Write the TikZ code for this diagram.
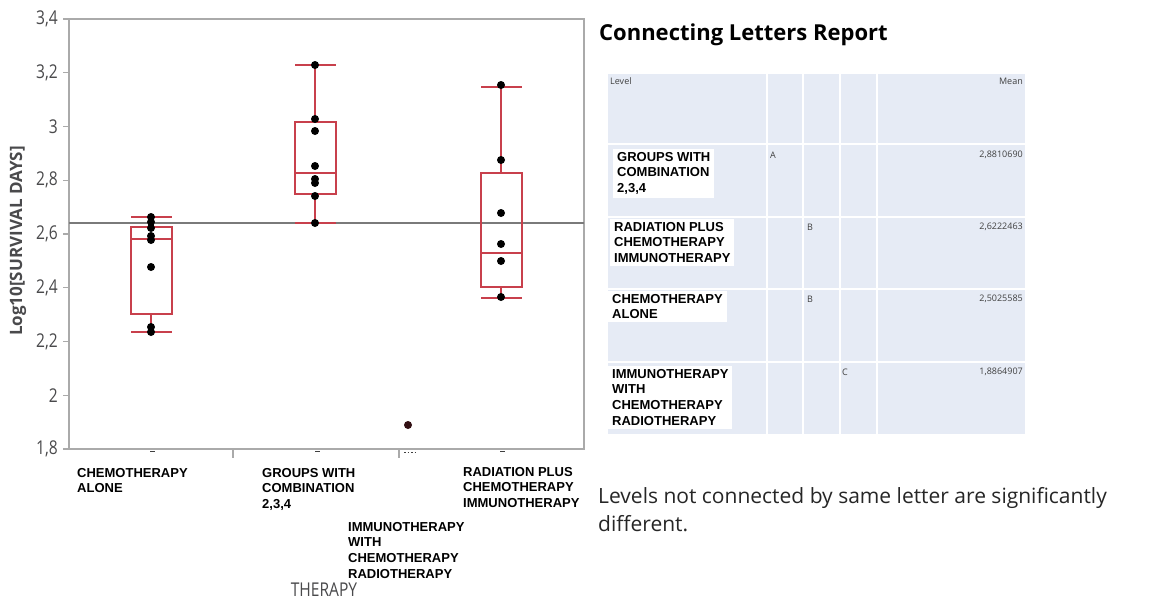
\documentclass[tikz,border=0pt]{standalone}
\usepackage{fontspec}
\usepackage{graphicx}
\setmainfont{Open Sans}
\newfontfamily\labfont{Liberation Sans}
\definecolor{boxred}{HTML}{C8404C}
\definecolor{framegray}{HTML}{AAAAAA}
\definecolor{refgray}{HTML}{7A7A7A}
\definecolor{tickgray}{HTML}{4A4A4C}
\definecolor{tablebg}{HTML}{E6EBF5}
\definecolor{smallgray}{HTML}{404040}
\newcommand{\narrowtxt}[1]{\scalebox{0.82}[1]{#1}}
\tikzset{
  boxc/.style={draw=boxred, line width=1.3pt},
  datadot/.style={circle, fill=black, inner sep=0pt, minimum size=8pt},
  lbl/.style={font=\labfont\bfseries\fontsize{13}{15.7}\selectfont, align=left, inner sep=0pt, anchor=north west},
  rowlbl/.style={lbl, fill=white, inner xsep=4pt, inner ysep=3pt},
  ticklbl/.style={font=\fontsize{19}{19}\selectfont, text=tickgray, anchor=east, inner sep=0pt},
  small/.style={font=\fontsize{9}{10}\selectfont, text=smallgray, inner sep=0pt},
  frameline/.style={draw=framegray, line width=1.2pt},
}
\begin{document}
\begin{tikzpicture}[x=1pt, y=-1pt]
\useasboundingbox (0,0) rectangle (1150,603);
\fill[white] (0,0) rectangle (1150,603);

% ---------- plot frame ----------
\coordinate (fNW) at (69,19);
\coordinate (fNE) at (584,19);
\coordinate (fSW) at (69,449);
\coordinate (fSE) at (584,449);
\draw[frameline] (fSW) -- (fNW) -- (fNE) -- (fSE) -- cycle;

% y ticks and labels
\foreach \v/\t in {3.4/{3,4},3.2/{3,2},3.0/{3},2.8/{2,8},2.6/{2,6},2.4/{2,4},2.2/{2,2},2.0/{2},1.8/{1,8}}{
  \pgfmathsetmacro{\yy}{449-(\v-1.8)*268.75}
  \draw[frameline] (63,\yy) -- (69,\yy);
  \node[ticklbl] (yl\v) at (58,\yy) {\narrowtxt{\t}};
}

% axis title
\node[font=\bfseries\fontsize{17}{17}\selectfont, text=tickgray, rotate=90, inner sep=0pt] (ytitle) at (18,241) {Log10[SURVIVAL DAYS]};

% x ticks
\draw[frameline] (233,449) -- (233,458);
\draw[frameline] (399,449) -- (399,458);
\draw[smallgray, line width=0.8pt] (150,451.5) -- (155,451.5);
\draw[smallgray, line width=0.8pt] (315,451.5) -- (320,451.5);
\draw[smallgray, line width=0.8pt] (500,451.5) -- (505,451.5);
\draw[smallgray, line width=0.8pt, dash pattern=on 1.5pt off 2pt] (404,452) -- (418,452);

% reference line
\coordinate (rL) at (69,223);
\coordinate (rR) at (584,223);
\draw[refgray, line width=1.5pt] (rL) -- (rR);

% ---------- box: chemotherapy alone ----------
\draw[boxc] (151,217) -- (151,227);
\draw[boxc] (151,314) -- (151,332);
\draw[boxc] (131,217) -- (172,217);
\draw[boxc] (131,332) -- (172,332);
\draw[boxc] (131,227) rectangle (172,314);
\draw[boxc] (131,239) -- (172,239);
\foreach \yy in {217,222,228,236,240,267,327,332}{
  \node[datadot] at (151,\yy) {};
}

% ---------- box: groups with combination ----------
\draw[boxc] (315,65) -- (315,122);
\draw[boxc] (315,194) -- (315,223);
\draw[boxc] (295,65) -- (336,65);
\draw[boxc] (295,223) -- (336,223);
\draw[boxc] (295,122) rectangle (336,194);
\draw[boxc] (295,173) -- (336,173);
\foreach \yy in {65,119,131,166,179,183,196,223}{
  \node[datadot] at (315,\yy) {};
}

% ---------- immunotherapy single point ----------
\node[circle, fill=black!75!boxred, inner sep=0pt, minimum size=8pt] at (408,425) {};

% ---------- box: radiation plus ----------
\draw[boxc] (501,87) -- (501,173);
\draw[boxc] (501,287) -- (501,298);
\draw[boxc] (481,87) -- (522,87);
\draw[boxc] (481,298) -- (522,298);
\draw[boxc] (481,173) rectangle (522,287);
\draw[boxc] (481,253) -- (522,253);
\foreach \yy in {85,160,213,244,261,297}{
  \node[datadot] at (501,\yy) {};
}

% ---------- x labels ----------
\node[lbl] (xchemo) at (77,468) {CHEMOTHERAPY\\ALONE};
\node[lbl] (xgroups) at (262,468) {GROUPS WITH\\COMBINATION\\2,3,4};
\node[lbl] (xrad) at (463,467) {RADIATION PLUS\\CHEMOTHERAPY\\IMMUNOTHERAPY};
\node[lbl] (ximmuno) at (348,522) {IMMUNOTHERAPY\\WITH\\CHEMOTHERAPY\\RADIOTHERAPY};
\node[font=\fontsize{19}{19}\selectfont, text=tickgray, inner sep=0pt] (xtitle) at (324,590) {\narrowtxt{THERAPY}};

% ---------- report ----------
\node[font=\bfseries\fontsize{22}{24}\selectfont, anchor=west, inner sep=0pt] (title) at (599,35) {Connecting Letters Report};

\fill[tablebg] (608,74) rectangle (1025,434);
\foreach \xx in {767,803,840,877}{
  \draw[white, line width=1.2pt] (\xx,74) -- (\xx,434);
}
\foreach \yy in {144,217,289,362}{
  \draw[white, line width=1.2pt] (608,\yy) -- (1025,\yy);
}

\node[small, anchor=west] (hlevel) at (610,81) {Level};
\node[small, anchor=east] (hmean) at (1023,81) {Mean};

\node[rowlbl] (r1) at (613,149) {GROUPS WITH\\COMBINATION\\2,3,4};
\node[rowlbl] (r2) at (610,219) {RADIATION PLUS\\CHEMOTHERAPY\\IMMUNOTHERAPY};
\node[rowlbl] (r3) at (608,291) {CHEMOTHERAPY\\ALONE};
\node[rowlbl] (r4) at (608,366) {IMMUNOTHERAPY\\WITH\\CHEMOTHERAPY\\RADIOTHERAPY};

\node[small] (la) at (773,155) {A};
\node[small] (lb1) at (810,227) {B};
\node[small] (lb2) at (810,299) {B};
\node[small] (lc) at (845,372) {C};

\node[small, anchor=east] (m1) at (1023,155) {2,8810690};
\node[small, anchor=east] (m2) at (1023,227) {2,6222463};
\node[small, anchor=east] (m3) at (1023,299) {2,5025585};
\node[small, anchor=east] (m4) at (1023,372) {1,8864907};

\node[font=\fontsize{21}{28}\selectfont, text=black!85, align=left, anchor=north west, inner sep=0pt] (note) at (598,487) {Levels not connected by same letter are significantly\\different.};
\end{tikzpicture}
\end{document}
